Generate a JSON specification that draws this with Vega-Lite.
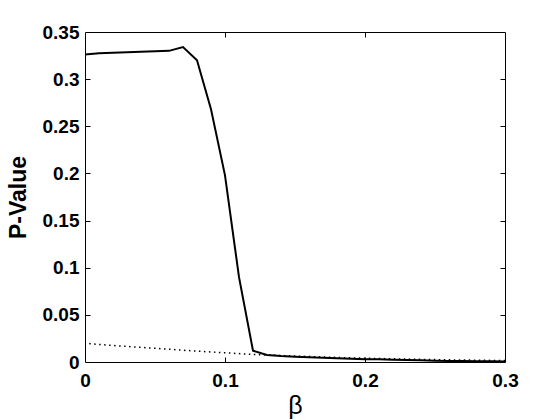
{
  "$schema": "https://vega.github.io/schema/vega-lite/v6.json",
  "width": 420,
  "height": 330,
  "autosize": {"type": "none"},
  "padding": {"left": 85, "top": 32, "right": 55, "bottom": 58},
  "background": "white",
  "config": {
    "view": {"stroke": "black", "strokeWidth": 1},
    "axis": {
      "domain": false,
      "grid": false,
      "tickColor": "black",
      "labelColor": "black",
      "titleColor": "black",
      "labelFont": "Liberation Sans",
      "titleFont": "Liberation Sans",
      "labelFontSize": 19,
      "labelFontWeight": "bold"
    }
  },
  "datasets": {
    "solid": [
      {"beta": 0, "p": 0.326},
      {"beta": 0.01, "p": 0.3275},
      {"beta": 0.02, "p": 0.328},
      {"beta": 0.03, "p": 0.3285},
      {"beta": 0.04, "p": 0.329},
      {"beta": 0.05, "p": 0.3295},
      {"beta": 0.06, "p": 0.330},
      {"beta": 0.07, "p": 0.334},
      {"beta": 0.08, "p": 0.320},
      {"beta": 0.09, "p": 0.268},
      {"beta": 0.10, "p": 0.198},
      {"beta": 0.11, "p": 0.090},
      {"beta": 0.12, "p": 0.012},
      {"beta": 0.13, "p": 0.0075},
      {"beta": 0.14, "p": 0.0063},
      {"beta": 0.15, "p": 0.0055},
      {"beta": 0.16, "p": 0.005},
      {"beta": 0.17, "p": 0.0045},
      {"beta": 0.18, "p": 0.004},
      {"beta": 0.19, "p": 0.0035},
      {"beta": 0.20, "p": 0.003},
      {"beta": 0.21, "p": 0.0028},
      {"beta": 0.22, "p": 0.0025},
      {"beta": 0.23, "p": 0.0022},
      {"beta": 0.24, "p": 0.0018},
      {"beta": 0.25, "p": 0.0013},
      {"beta": 0.26, "p": 0.0011},
      {"beta": 0.27, "p": 0.001},
      {"beta": 0.28, "p": 0.0009},
      {"beta": 0.29, "p": 0.0007},
      {"beta": 0.30, "p": 0.0005}
    ],
    "dotted": [
      {"beta": 0.003, "p": 0.0195},
      {"beta": 0.02, "p": 0.0175},
      {"beta": 0.04, "p": 0.0155},
      {"beta": 0.06, "p": 0.0135},
      {"beta": 0.08, "p": 0.0115},
      {"beta": 0.10, "p": 0.0098},
      {"beta": 0.12, "p": 0.008},
      {"beta": 0.14, "p": 0.0068},
      {"beta": 0.16, "p": 0.0058},
      {"beta": 0.18, "p": 0.0048},
      {"beta": 0.20, "p": 0.004},
      {"beta": 0.22, "p": 0.0034},
      {"beta": 0.24, "p": 0.0028},
      {"beta": 0.26, "p": 0.0023},
      {"beta": 0.28, "p": 0.0019},
      {"beta": 0.30, "p": 0.0015}
    ]
  },
  "layer": [
    {
      "data": {"name": "dotted"},
      "mark": {"type": "line", "color": "black", "strokeWidth": 1.5, "strokeDash": [1.5, 3.5], "clip": true},
      "encoding": {
        "x": {"field": "beta", "type": "quantitative", "scale": {"domain": [0, 0.3], "nice": false, "zero": false},
          "axis": {"orient": "top", "labels": false, "title": null, "ticks": true, "tickSize": 5, "tickWidth": 1, "tickColor": "black", "offset": -5, "values": [0.1, 0.2]}},
        "y": {"field": "p", "type": "quantitative", "scale": {"domain": [0, 0.35], "nice": false},
          "axis": {"orient": "right", "labels": false, "title": null, "ticks": true, "tickSize": 5, "tickWidth": 1, "tickColor": "black", "offset": -5, "values": [0.05, 0.1, 0.15, 0.2, 0.25, 0.3]}}
      }
    },
    {
      "data": {"name": "dotted"},
      "mark": {"type": "line", "opacity": 0},
      "encoding": {
        "x": {"field": "beta", "type": "quantitative", "scale": {"domain": [0, 0.3], "nice": false, "zero": false},
          "axis": {"orient": "bottom", "labels": false, "title": null, "ticks": true, "tickSize": 5, "tickWidth": 1, "tickColor": "black", "offset": -5, "values": [0.1, 0.2]}},
        "y": {"field": "p", "type": "quantitative", "scale": {"domain": [0, 0.35], "nice": false},
          "axis": {"orient": "left", "labels": false, "title": null, "ticks": true, "tickSize": 5, "tickWidth": 1, "tickColor": "black", "offset": -5, "values": [0.05, 0.1, 0.15, 0.2, 0.25, 0.3]}}
      }
    },
    {
      "data": {"name": "solid"},
      "mark": {"type": "line", "color": "black", "strokeWidth": 2, "clip": true},
      "encoding": {
        "x": {"field": "beta", "type": "quantitative", "scale": {"domain": [0, 0.3], "nice": false, "zero": false},
          "axis": {"orient": "bottom", "title": "β", "titleFontSize": 25, "titleFontWeight": "normal", "titlePadding": 3,
            "ticks": false, "labelPadding": 9, "values": [0, 0.1, 0.2, 0.3], "format": "~g", "labelFlush": false}},
        "y": {"field": "p", "type": "quantitative", "scale": {"domain": [0, 0.35], "nice": false},
          "axis": {"orient": "left", "title": "P-Value", "titleFontSize": 23, "titleFontWeight": "bold", "titlePadding": 12,
            "ticks": false, "labelPadding": 6, "values": [0, 0.05, 0.1, 0.15, 0.2, 0.25, 0.3, 0.35], "format": "~g", "labelFlush": false}}
      }
    }
  ],
  "resolve": {"axis": {"x": "independent", "y": "independent"}}
}
